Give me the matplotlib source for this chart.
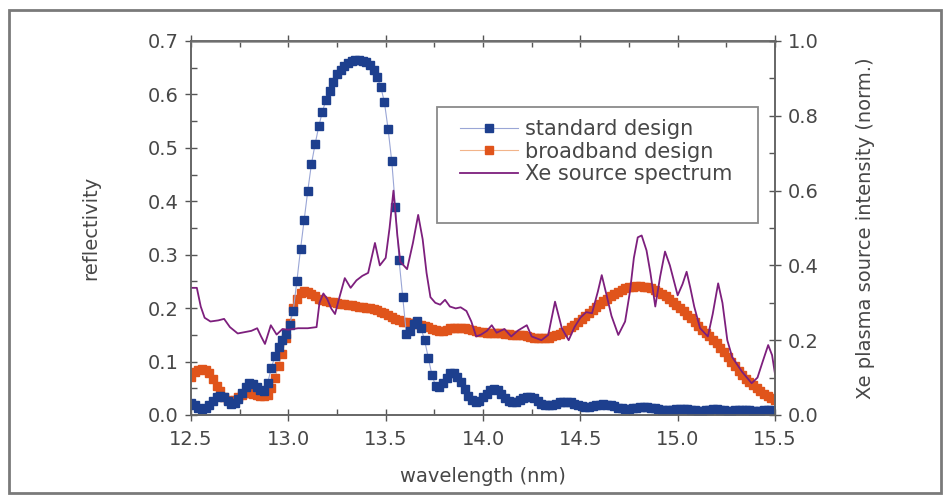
import numpy as np
import matplotlib
matplotlib.use("Agg")
import matplotlib.pyplot as plt
from matplotlib.patches import Rectangle
from matplotlib.ticker import MultipleLocator, FormatStrFormatter

# --- DATA ---
# reflectivity curves sampled on a regular wavelength grid, 12.5 .. 15.5 nm
wl = np.linspace(12.5, 15.5, 161)

standard = [
    0.022, 0.018, 0.014, 0.012, 0.013, 0.018, 0.026, 0.033,
    0.036, 0.033, 0.026, 0.020, 0.022, 0.030, 0.042, 0.053,
    0.060, 0.058, 0.052, 0.046, 0.045, 0.060, 0.088, 0.110,
    0.127, 0.140, 0.152, 0.168, 0.195, 0.250, 0.310, 0.365,
    0.420, 0.470, 0.507, 0.540, 0.568, 0.590, 0.607, 0.623,
    0.638, 0.646, 0.653, 0.658, 0.662, 0.664, 0.664, 0.663,
    0.660, 0.655, 0.645, 0.632, 0.614, 0.585, 0.535, 0.475,
    0.390, 0.290, 0.220, 0.152, 0.158, 0.170, 0.176, 0.163,
    0.140, 0.107, 0.075, 0.055, 0.053, 0.060, 0.070, 0.079,
    0.079, 0.072, 0.062, 0.048, 0.036, 0.029, 0.025, 0.027,
    0.033, 0.040, 0.046, 0.049, 0.047, 0.040, 0.032, 0.026,
    0.024, 0.025, 0.028, 0.031, 0.034, 0.034, 0.031, 0.026,
    0.021, 0.019, 0.018, 0.019, 0.021, 0.024, 0.025, 0.025,
    0.024, 0.021, 0.018, 0.016, 0.015, 0.015, 0.016, 0.018,
    0.019, 0.020, 0.019, 0.018, 0.016, 0.014, 0.013, 0.012,
    0.012, 0.013, 0.014, 0.015, 0.015, 0.015, 0.014, 0.013,
    0.011, 0.010, 0.009, 0.009, 0.010, 0.011, 0.012, 0.012,
    0.011, 0.010, 0.009, 0.008, 0.008, 0.009, 0.010, 0.011,
    0.011, 0.010, 0.009, 0.008, 0.008, 0.009, 0.009, 0.010,
    0.010, 0.009, 0.008, 0.008, 0.008, 0.009, 0.009, 0.009,
    0.008,
]

broadband = [
    0.072, 0.080, 0.085, 0.087, 0.085, 0.078, 0.067, 0.055,
    0.044, 0.034, 0.028, 0.026, 0.028, 0.033, 0.038, 0.041,
    0.041, 0.040, 0.038, 0.036, 0.035, 0.038, 0.050, 0.070,
    0.092, 0.115, 0.145, 0.172, 0.200, 0.218, 0.228, 0.232,
    0.231, 0.227, 0.222, 0.218, 0.215, 0.213, 0.212, 0.211,
    0.209, 0.208, 0.207, 0.206, 0.205, 0.204, 0.203, 0.202,
    0.201, 0.200, 0.199, 0.196, 0.193, 0.190, 0.187, 0.183,
    0.180, 0.177, 0.175, 0.174, 0.173, 0.172, 0.171, 0.169,
    0.166, 0.164, 0.161, 0.159, 0.158, 0.158, 0.160, 0.162,
    0.163, 0.163, 0.163, 0.162, 0.161, 0.159, 0.157, 0.156,
    0.155, 0.154, 0.154, 0.154, 0.154, 0.153, 0.152, 0.151,
    0.150, 0.150, 0.150, 0.149, 0.148, 0.146, 0.145, 0.144,
    0.144, 0.144, 0.145, 0.147, 0.149, 0.152, 0.156, 0.160,
    0.164, 0.169, 0.174, 0.179, 0.185, 0.190, 0.196, 0.202,
    0.208, 0.213, 0.218, 0.223, 0.227, 0.231, 0.234, 0.237,
    0.239, 0.240, 0.241, 0.241, 0.240, 0.239, 0.237, 0.234,
    0.230, 0.226, 0.222, 0.217, 0.212, 0.206, 0.200, 0.194,
    0.188, 0.181, 0.174, 0.167, 0.160, 0.153, 0.147, 0.141,
    0.134, 0.126, 0.117, 0.108, 0.099, 0.091, 0.083, 0.075,
    0.068, 0.062, 0.056, 0.050, 0.044, 0.039, 0.035, 0.031,
    0.028,
]

# Xe source spectrum (normalised), line vertices
xe_wl = [
    12.5, 12.53, 12.55, 12.57, 12.6, 12.64, 12.67, 12.7, 12.74, 12.78,
    12.81, 12.84, 12.86, 12.88, 12.91, 12.94, 12.97, 13.0, 13.05, 13.1,
    13.145, 13.16, 13.18, 13.2, 13.22, 13.24, 13.26, 13.29, 13.32, 13.35,
    13.38, 13.41, 13.445, 13.47, 13.5, 13.52, 13.54, 13.56, 13.575, 13.61,
    13.64, 13.667, 13.69, 13.71, 13.73, 13.755, 13.78, 13.805, 13.83, 13.86,
    13.885, 13.915, 13.94, 13.965, 13.99, 14.02, 14.045, 14.07, 14.11, 14.145,
    14.18, 14.225, 14.25, 14.3, 14.335, 14.37, 14.405, 14.44, 14.47, 14.5,
    14.53, 14.56, 14.59, 14.61, 14.635, 14.66, 14.695, 14.73, 14.755, 14.775,
    14.795, 14.815, 14.84, 14.86, 14.885, 14.91, 14.935, 14.96, 14.98, 15.0,
    15.025, 15.046, 15.065, 15.085, 15.115, 15.155, 15.18, 15.208, 15.23, 15.255,
    15.28, 15.33, 15.38, 15.41, 15.435, 15.465, 15.485, 15.5,
]
xe_int = [
    0.34, 0.34, 0.29, 0.26, 0.25, 0.253, 0.257, 0.235, 0.218, 0.222,
    0.225, 0.232, 0.21, 0.19, 0.24, 0.215, 0.23, 0.228, 0.232, 0.232,
    0.235, 0.30, 0.325, 0.31, 0.285, 0.27, 0.31, 0.366, 0.34, 0.36,
    0.372, 0.38, 0.46, 0.40, 0.42, 0.50, 0.60, 0.48, 0.41, 0.39,
    0.46, 0.535, 0.47, 0.38, 0.315, 0.30, 0.295, 0.308, 0.29, 0.285,
    0.288, 0.278, 0.25, 0.21, 0.215, 0.225, 0.24, 0.22, 0.23, 0.21,
    0.226, 0.24, 0.21, 0.20, 0.214, 0.303, 0.232, 0.20, 0.235, 0.26,
    0.275, 0.272, 0.33, 0.374, 0.32, 0.265, 0.214, 0.25, 0.33, 0.42,
    0.475, 0.48, 0.44, 0.38, 0.29, 0.37, 0.437, 0.40, 0.36, 0.32,
    0.35, 0.383, 0.34, 0.29, 0.232, 0.21, 0.27, 0.352, 0.30, 0.20,
    0.155, 0.116, 0.085, 0.10, 0.14, 0.187, 0.16, 0.11,
]

TXT = "#474747"
plt.rcParams["font.family"] = ["DejaVu Sans"]

fig = plt.figure(figsize=(9.51, 4.95), dpi=100)
ax = fig.add_axes([191 / 951, 80 / 495, 584 / 951, 374 / 495])
ax2 = ax.twinx()

l1, = ax.plot(wl, standard, color="#9aa6d6", lw=0.8, marker="s", ms=5.4,
              mfc="#1d3f8e", mec="#1d3f8e", label="standard design", zorder=3)
l2, = ax.plot(wl, broadband, color="#f2b48a", lw=0.8, marker="s", ms=5.4,
              mfc="#e0541b", mec="#e0541b", label="broadband design", zorder=2)
l3, = ax2.plot(xe_wl, xe_int, color="#7d1f7d", lw=1.3, label="Xe source spectrum")

ax.set_xlim(12.5, 15.5)
ax.set_ylim(0, 0.7)
ax2.set_ylim(0, 1.0)

ax.xaxis.set_major_locator(MultipleLocator(0.5))
ax.xaxis.set_minor_locator(MultipleLocator(0.25))
ax.yaxis.set_major_locator(MultipleLocator(0.1))
ax.yaxis.set_minor_locator(MultipleLocator(0.05))
ax2.yaxis.set_major_locator(MultipleLocator(0.2))
ax2.yaxis.set_minor_locator(MultipleLocator(0.1))
ax.xaxis.set_major_formatter(FormatStrFormatter("%.1f"))
ax.yaxis.set_major_formatter(FormatStrFormatter("%.1f"))
ax2.yaxis.set_major_formatter(FormatStrFormatter("%.1f"))

ax.tick_params(axis="both", which="major", direction="inout", length=8, width=1,
               color="#555555", labelsize=14, labelcolor=TXT, top=True, pad=5)
ax.tick_params(axis="both", which="minor", direction="in", length=4, width=1,
               color="#555555", top=True)
ax.tick_params(axis="x", which="major", labeltop=False, pad=7)
ax2.tick_params(axis="y", which="major", direction="inout", length=8, width=1,
                color="#555555", labelsize=14, labelcolor=TXT, pad=5)
ax2.tick_params(axis="y", which="minor", direction="in", length=4, width=1,
                color="#555555")

for a in (ax, ax2):
    for s in a.spines.values():
        s.set_color("#666666")
        s.set_linewidth(1.2)
ax.spines["top"].set_color("#999999")
ax.spines["top"].set_linewidth(2)

ax.set_xlabel("wavelength (nm)", fontsize=14, color=TXT)
ax.set_ylabel("reflectivity", fontsize=14, color=TXT)
ax2.set_ylabel("Xe plasma source intensity (norm.)", fontsize=14, color=TXT)
ax.xaxis.set_label_coords(0.5, -0.14)
ax.yaxis.set_label_coords(-0.156, 0.5)
ax2.yaxis.set_label_coords(1.139, 0.5)

# legend box (drawn separately, it is taller than the entries)
fig.add_artist(Rectangle((437 / 951, 1 - 223 / 495), 321 / 951, 116 / 495,
                         transform=fig.transFigure, fill=False,
                         ec="#8a8a8a", lw=1.3, zorder=5))
leg = ax2.legend(handles=[l1, l2, l3], loc="upper left",
                 bbox_to_anchor=(460 / 951, 1 - 119 / 495),
                 bbox_transform=fig.transFigure, frameon=False,
                 fontsize=15, handlelength=2.8, handletextpad=0.3,
                 labelspacing=0.12, borderpad=0, borderaxespad=0,
                 numpoints=1, markerscale=1.0)
for t in leg.get_texts():
    t.set_color(TXT)

# grey frame around the whole picture
fig.add_artist(Rectangle((9 / 951, 2 / 495), 932 / 951, 483 / 495,
                         transform=fig.transFigure, fill=False,
                         ec="#7a7a7a", lw=2))

fig.savefig("out.png", dpi=100)
